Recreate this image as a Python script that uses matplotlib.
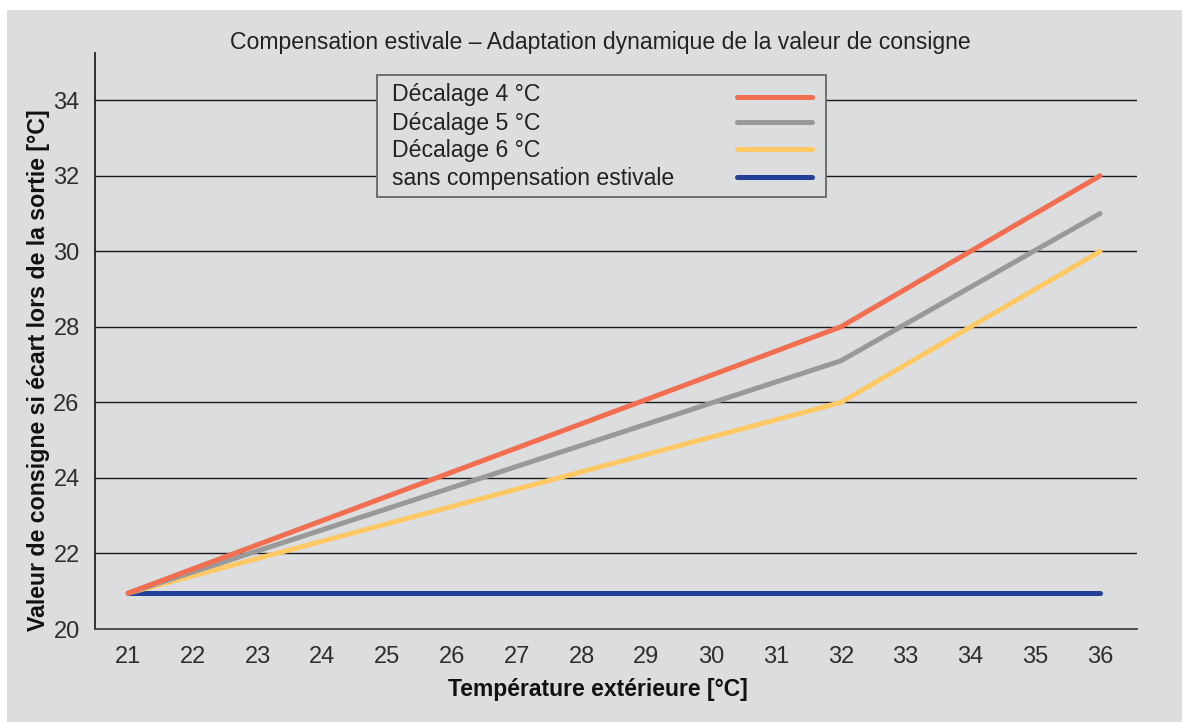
import matplotlib.pyplot as plt
from matplotlib.patches import Rectangle
from matplotlib.lines import Line2D

# ==========================================
# Données
# ==========================================
temp_ext = [21, 32, 36]
decalage_4 = [20.95, 28.0, 32.0]
decalage_5 = [20.95, 27.1, 31.0]
decalage_6 = [20.95, 26.0, 30.0]
sans_comp_x = [21, 36]
sans_comp_y = [20.95, 20.95]

x_ticks = list(range(21, 37))
y_ticks = [20, 22, 24, 26, 28, 30, 32, 34]

series_labels = ["Décalage 4 °C", "Décalage 5 °C", "Décalage 6 °C", "sans compensation estivale"]
series_colors = ["#f26e50", "#999999", "#fec964", "#233f98"]

# ==========================================
# Figure
# ==========================================
plt.rcParams['font.family'] = ['Liberation Sans', 'DejaVu Sans']
bg = "#dcdddf"
W, H = 1182, 722

fig = plt.figure(figsize=(11.82, 7.22), dpi=100, facecolor="white")
fig.patches.append(Rectangle((7 / W, 0), 1 - 7 / W, 1 - 10 / H,
                             transform=fig.transFigure, facecolor=bg,
                             edgecolor="none", zorder=-10))

ax = fig.add_axes([95 / W, 1 - 629 / H, (1137 - 95) / W, (629 - 53) / H])
ax.set_facecolor(bg)

lw = 3.6
ax.plot(temp_ext, decalage_6, color=series_colors[2], lw=lw, solid_capstyle="round", zorder=3)
ax.plot(temp_ext, decalage_5, color=series_colors[1], lw=lw, solid_capstyle="round", zorder=4)
ax.plot(temp_ext, decalage_4, color=series_colors[0], lw=lw, solid_capstyle="round", zorder=5)
ax.plot(sans_comp_x, sans_comp_y, color=series_colors[3], lw=lw, solid_capstyle="round", zorder=2)

ax.set_xlim(20.49, 36.57)
ax.set_ylim(20, 35.25)
ax.set_xticks(x_ticks)
ax.set_yticks(y_ticks)
ax.tick_params(length=0, labelsize=17, colors="#2e2e2e")
ax.tick_params(axis="x", pad=12)
ax.tick_params(axis="y", pad=11)
for lab in ax.get_yticklabels():
    lab.set_va("center_baseline")

for y in y_ticks[1:]:
    ax.axhline(y, color="#1a1a1a", lw=1.0, zorder=1)

for s in ["top", "right"]:
    ax.spines[s].set_visible(False)
ax.spines["left"].set_color("#222222")
ax.spines["left"].set_linewidth(1.3)
ax.spines["bottom"].set_color("#444444")
ax.spines["bottom"].set_linewidth(1.3)

ax.set_xlabel("Température extérieure [°C]", fontsize=16.5, fontweight="bold", color="#111111")
ax.xaxis.set_label_coords(0.483, -0.0844)
ax.set_ylabel("Valeur de consigne si écart lors de la sortie [°C]", fontsize=16.7,
              fontweight="bold", color="#111111")
ax.yaxis.set_label_coords(-0.0432, 0.45)

fig.text(600 / W, 1 - 42 / H, "Compensation estivale – Adaptation dynamique de la valeur de consigne",
         ha="center", va="center", fontsize=16.6, color="#222222")

# Légende faite à la main (texte aligné à gauche, traits à droite)
fig.patches.append(Rectangle((377 / W, 1 - 197 / H), (826 - 377) / W, (197 - 75) / H,
                             transform=fig.transFigure, facecolor=bg,
                             edgecolor="#666666", lw=1.3, zorder=5))
baselines = [101.5, 130, 157.5, 185]
line_y = [97.3, 122.3, 149, 177]
for lab, col, yb, yl in zip(series_labels, series_colors, baselines, line_y):
    fig.text(392 / W, 1 - yb / H, lab, ha="left", va="baseline",
             fontsize=16.6, color="#222222", zorder=6)
    fig.add_artist(Line2D([737 / W, 812 / W], [1 - yl / H, 1 - yl / H],
                          transform=fig.transFigure, color=col, lw=lw,
                          solid_capstyle="round", zorder=6))

fig.savefig("out.png", dpi=100, facecolor=fig.get_facecolor())
